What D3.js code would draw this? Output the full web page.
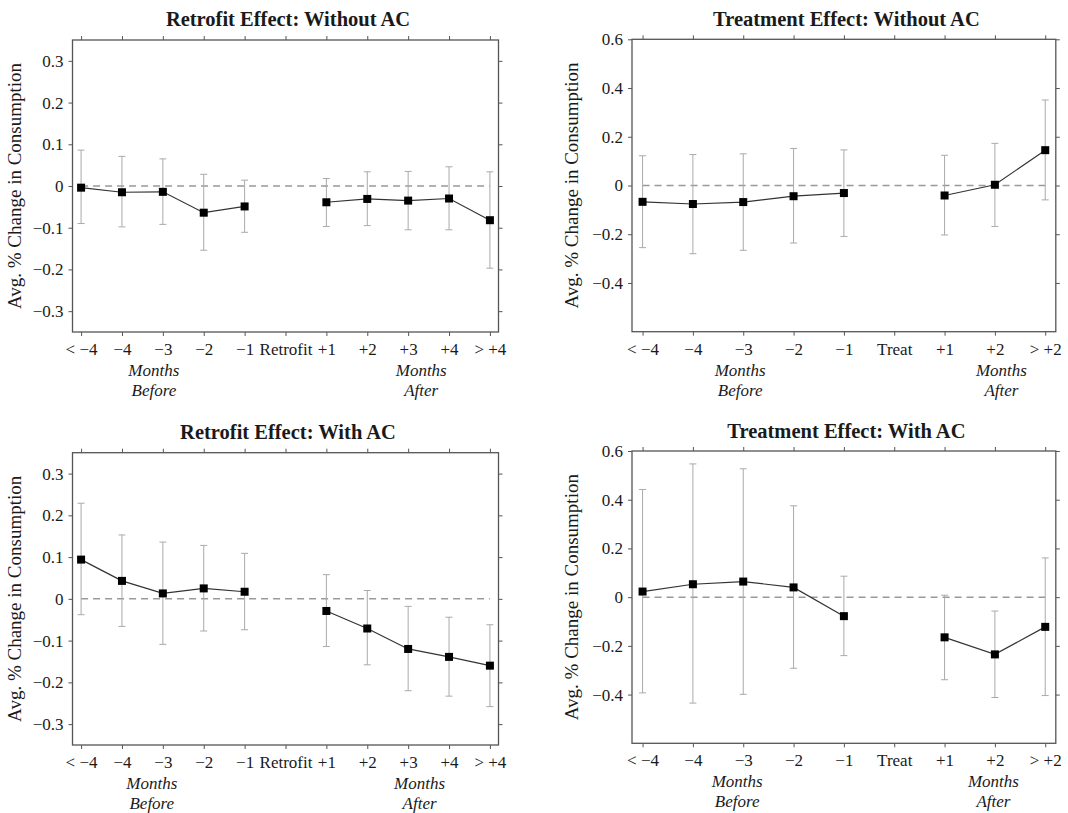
<!DOCTYPE html>
<html>
<head>
<meta charset="utf-8">
<script src="https://cdn.jsdelivr.net/npm/d3@7"></script>
<style>
  body { margin: 0; background: #fff; }
  svg { display: block; }
  text { font-family: "Liberation Serif", "Times New Roman", serif; fill: #1a1a1a; }
</style>
</head>
<body>
<div id="chart"></div>
<script>
// Categories on the x axis
const retrofitCats = ["< \u22124", "\u22124", "\u22123", "\u22122", "\u22121", "Retrofit", "+1", "+2", "+3", "+4", "> +4"];
const treatCats = ["< \u22124", "\u22124", "\u22123", "\u22122", "\u22121", "Treat", "+1", "+2", "> +2"];

// Tick values for the y axes
const retrofitTicks = [-0.3, -0.2, -0.1, 0, 0.1, 0.2, 0.3];
const treatTicks = [-0.4, -0.2, 0, 0.2, 0.4, 0.6];

// Retrofit effect, without AC (null = the retrofit month itself)
const retroNoAcEst = [-0.004, -0.015, -0.014, -0.064, -0.049, null, -0.039, -0.031, -0.035, -0.030, -0.082];
const retroNoAcLow = [-0.090, -0.098, -0.092, -0.154, -0.111, null, -0.097, -0.095, -0.105, -0.105, -0.197];
const retroNoAcHigh = [0.086, 0.071, 0.065, 0.028, 0.014, null, 0.018, 0.034, 0.035, 0.046, 0.034];

// Treatment effect, without AC
const treatNoAcEst = [-0.067, -0.076, -0.068, -0.044, -0.031, null, -0.041, 0.003, 0.145];
const treatNoAcLow = [-0.255, -0.280, -0.266, -0.236, -0.209, null, -0.203, -0.168, -0.059];
const treatNoAcHigh = [0.122, 0.127, 0.130, 0.152, 0.146, null, 0.124, 0.173, 0.351];

// Retrofit effect, with AC
const retroAcEst = [0.094, 0.043, 0.013, 0.025, 0.017, null, -0.029, -0.071, -0.120, -0.139, -0.160];
const retroAcLow = [-0.038, -0.066, -0.109, -0.077, -0.074, null, -0.114, -0.158, -0.220, -0.233, -0.258];
const retroAcHigh = [0.229, 0.153, 0.136, 0.128, 0.109, null, 0.058, 0.020, -0.018, -0.044, -0.062];

// Treatment effect, with AC
const treatAcEst = [0.023, 0.053, 0.064, 0.040, -0.078, null, -0.165, -0.235, -0.122];
const treatAcLow = [-0.393, -0.435, -0.399, -0.292, -0.240, null, -0.339, -0.412, -0.404];
const treatAcHigh = [0.442, 0.547, 0.527, 0.375, 0.086, null, 0.008, -0.057, 0.161];

const width = 1068;
const height = 813;

const panels = [
    { title: "Retrofit Effect: Without AC", cats: retrofitCats, ticks: retrofitTicks, dom: 0.35,
      est: retroNoAcEst, low: retroNoAcLow, high: retroNoAcHigh,
      x0: 72.5, x1: 498.5, y0: 40, y1: 332, titleY: 26, labX: 20.5, before: 1.78, after: 8.32 },
    { title: "Treatment Effect: Without AC", cats: treatCats, ticks: treatTicks, dom: 0.6,
      est: treatNoAcEst, low: treatNoAcLow, high: treatNoAcHigh,
      x0: 632, x1: 1055.8, y0: 39.3, y1: 331.7, titleY: 26, labX: 578, before: 1.94, after: 7.13 },
    { title: "Retrofit Effect: With AC", cats: retrofitCats, ticks: retrofitTicks, dom: 0.35,
      est: retroAcEst, low: retroAcLow, high: retroAcHigh,
      x0: 72.5, x1: 498.5, y0: 452.7, y1: 745, titleY: 439, labX: 20.5, before: 1.73, after: 8.28 },
    { title: "Treatment Effect: With AC", cats: treatCats, ticks: treatTicks, dom: 0.6,
      est: treatAcEst, low: treatAcLow, high: treatAcHigh,
      x0: 632, x1: 1055.8, y0: 451, y1: 743.3, titleY: 438, labX: 578, before: 1.88, after: 6.97 }
];

const svg = d3.select("#chart").append("svg")
    .attr("width", width)
    .attr("height", height);

const fmt = d => d === 0 ? "0" : d3.format(".1f")(d);

panels.forEach(p => {
    const x = d3.scalePoint()
        .domain(p.cats)
        .range([p.x0, p.x1])
        .padding(0.21);

    const y = d3.scaleLinear()
        .domain([-p.dom, p.dom])
        .range([p.y1, p.y0]);

    const g = svg.append("g");

    // Title
    g.append("text")
        .attr("x", (p.x0 + p.x1) / 2 + 2.5)
        .attr("y", p.titleY)
        .attr("text-anchor", "middle")
        .style("font-size", "20.5px")
        .style("font-weight", "bold")
        .text(p.title);

    // Axes on all four sides, ticks pointing outward
    const axisLeft = g.append("g")
        .attr("transform", `translate(${p.x0},0)`)
        .call(d3.axisLeft(y).tickValues(p.ticks).tickSize(4).tickPadding(5).tickFormat(fmt));
    const axisRight = g.append("g")
        .attr("transform", `translate(${p.x1},0)`)
        .call(d3.axisRight(y).tickValues(p.ticks).tickSize(4).tickFormat(""));
    const axisBottom = g.append("g")
        .attr("transform", `translate(0,${p.y1})`)
        .call(d3.axisBottom(x).tickSize(4).tickPadding(7));
    const axisTop = g.append("g")
        .attr("transform", `translate(0,${p.y0})`)
        .call(d3.axisTop(x).tickSize(4).tickFormat(""));

    [axisLeft, axisRight, axisBottom, axisTop].forEach(a => {
        a.select(".domain").remove();
        a.selectAll(".tick line").attr("stroke", "#555").attr("stroke-width", 1);
        a.selectAll(".tick text")
            .style("font-family", "'Liberation Serif', 'Times New Roman', serif")
            .style("font-size", "17px")
            .attr("fill", "#1a1a1a");
    });

    // Frame
    g.append("rect")
        .attr("x", p.x0)
        .attr("y", p.y0)
        .attr("width", p.x1 - p.x0)
        .attr("height", p.y1 - p.y0)
        .attr("fill", "none")
        .attr("stroke", "#555")
        .attr("stroke-width", 1.3);

    // Y axis label
    g.append("text")
        .attr("transform", `translate(${p.labX},${(p.y0 + p.y1) / 2}) rotate(-90)`)
        .attr("text-anchor", "middle")
        .style("font-size", "19px")
        .text("Avg. % Change in Consumption");

    // Months before / after labels
    const step = x.step();
    const xAt = i => x(p.cats[0]) + i * step;
    [[p.before, "Before"], [p.after, "After"]].forEach(([pos, word]) => {
        const t = g.append("text")
            .attr("x", xAt(pos))
            .attr("y", p.y1 + 44)
            .attr("text-anchor", "middle")
            .style("font-size", "17px")
            .style("font-style", "italic");
        t.append("tspan").attr("x", xAt(pos)).text("Months");
        t.append("tspan").attr("x", xAt(pos)).attr("dy", 20).text(word);
    });

    // Zero reference line
    g.append("line")
        .attr("x1", x(p.cats[0]))
        .attr("x2", x(p.cats[p.cats.length - 1]))
        .attr("y1", y(0))
        .attr("y2", y(0))
        .attr("stroke", "#999")
        .attr("stroke-width", 1.5)
        .attr("stroke-dasharray", "7,5");

    const rows = p.cats.map((c, i) => ({ cat: c, est: p.est[i], low: p.low[i], high: p.high[i] }))
        .filter(d => d.est !== null);

    // Confidence intervals
    const ci = g.append("g").attr("stroke", "#aaa").attr("stroke-width", 1);
    rows.forEach(d => {
        ci.append("line")
            .attr("x1", x(d.cat)).attr("x2", x(d.cat))
            .attr("y1", y(d.low)).attr("y2", y(d.high));
        ci.append("line")
            .attr("x1", x(d.cat) - 3.5).attr("x2", x(d.cat) + 3.5)
            .attr("y1", y(d.low)).attr("y2", y(d.low));
        ci.append("line")
            .attr("x1", x(d.cat) - 3.5).attr("x2", x(d.cat) + 3.5)
            .attr("y1", y(d.high)).attr("y2", y(d.high));
    });

    // Connecting line, broken at the event month
    const line = d3.line()
        .defined(d => d.est !== null)
        .x(d => x(d.cat))
        .y(d => y(d.est));

    g.append("path")
        .datum(p.cats.map((c, i) => ({ cat: c, est: p.est[i] })))
        .attr("d", line)
        .attr("fill", "none")
        .attr("stroke", "#333")
        .attr("stroke-width", 1.2);

    // Point estimates
    g.selectAll(".pt")
        .data(rows)
      .enter().append("rect")
        .attr("class", "pt")
        .attr("x", d => x(d.cat) - 4)
        .attr("y", d => y(d.est) - 4)
        .attr("width", 8)
        .attr("height", 8)
        .attr("fill", "#000");
});
</script>
</body>
</html>
